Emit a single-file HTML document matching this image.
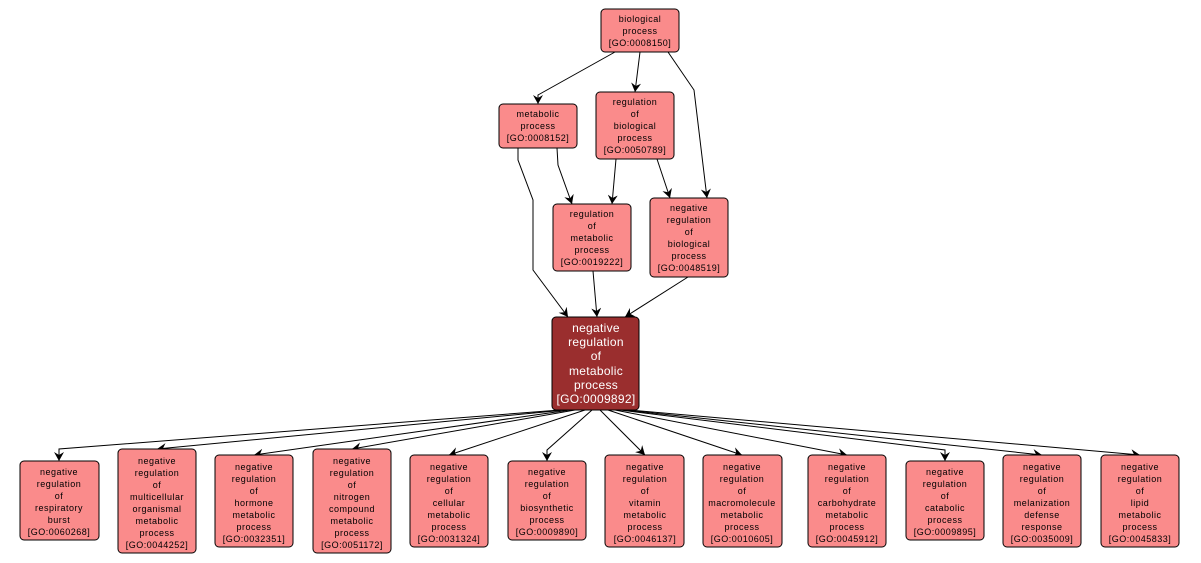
<!DOCTYPE html>
<html><head><meta charset="utf-8"><style>
html,body{margin:0;padding:0;background:#fff;}
svg{display:block;}
text{font-family:"Liberation Sans",sans-serif;font-size:9px;letter-spacing:0.5px;fill:#000;text-anchor:middle;dominant-baseline:central;}
.m text{fill:#fff;font-size:12px;letter-spacing:0.3px;}
rect.n{fill:#fa8b8b;stroke:#000;stroke-width:1;}
path.e{fill:none;stroke:#000;stroke-width:1;}
</style></head><body>
<svg width="1201" height="563" viewBox="0 0 1201 563">
<defs><marker id="a" markerWidth="10" markerHeight="10" refX="9" refY="5" orient="auto" markerUnits="userSpaceOnUse"><path d="M0,0 L9,5 L0,10 L3,5 Z" fill="#000"/></marker></defs>
<g marker-end="url(#a)">
<path class="e" d="M615,52 L538,95 L538,104"/>
<path class="e" d="M640,52 L635,92"/>
<path class="e" d="M668,52 L694,90 L707,198"/>
<path class="e" d="M518,148 L518,160 L533,200 L533,270 L568,317"/>
<path class="e" d="M557,148 L558,165 L572,204"/>
<path class="e" d="M616,159 L612,204"/>
<path class="e" d="M657,159 L670,198"/>
<path class="e" d="M593,271 L597,317"/>
<path class="e" d="M688,277 L625,317"/>
<path class="e" d="M560,410 L59,449 L59,461"/>
<path class="e" d="M565,410 L157,449"/>
<path class="e" d="M570,410 L254,455"/>
<path class="e" d="M575,410 L352,449"/>
<path class="e" d="M585,410 L449,455"/>
<path class="e" d="M592,410 L547,450 L547,461"/>
<path class="e" d="M600,410 L645,455"/>
<path class="e" d="M608,410 L742,455"/>
<path class="e" d="M615,410 L847,455"/>
<path class="e" d="M620,410 L945,450 L945,461"/>
<path class="e" d="M625,410 L1042,455"/>
<path class="e" d="M630,410 L1140,455"/>
</g>

<rect class="n" x="601" y="9" width="78" height="43" rx="4"/>
<text x="640" y="19">biological</text><text x="640" y="31">process</text><text x="640" y="43">[GO:0008150]</text>

<rect class="n" x="499" y="104" width="78" height="44" rx="4"/>
<text x="538" y="114">metabolic</text><text x="538" y="126">process</text><text x="538" y="138">[GO:0008152]</text>

<rect class="n" x="596" y="92" width="78" height="67" rx="4"/>
<text x="635" y="102">regulation</text><text x="635" y="114">of</text><text x="635" y="126">biological</text><text x="635" y="138">process</text><text x="635" y="150">[GO:0050789]</text>

<rect class="n" x="553" y="204" width="78" height="67" rx="4"/>
<text x="592" y="214">regulation</text><text x="592" y="226">of</text><text x="592" y="238">metabolic</text><text x="592" y="250">process</text><text x="592" y="262">[GO:0019222]</text>

<rect class="n" x="650" y="198" width="78" height="79" rx="4"/>
<text x="689" y="208">negative</text><text x="689" y="220">regulation</text><text x="689" y="232">of</text><text x="689" y="244">biological</text><text x="689" y="256">process</text><text x="689" y="268">[GO:0048519]</text>

<g class="m">
<rect x="552" y="317" width="87" height="93" rx="4" fill="#9a2e2e" stroke="#000"/>
<text x="596" y="328">negative</text><text x="596" y="342">regulation</text><text x="596" y="356">of</text><text x="596" y="371">metabolic</text><text x="596" y="385">process</text><text x="596" y="399">[GO:0009892]</text>
</g>

<rect class="n" x="20" y="461" width="79" height="79" rx="4"/>
<text x="59" y="472">negative</text><text x="59" y="484">regulation</text><text x="59" y="496">of</text><text x="59" y="508">respiratory</text><text x="59" y="520">burst</text><text x="59" y="532">[GO:0060268]</text>

<rect class="n" x="118" y="449" width="78" height="104" rx="4"/>
<text x="157" y="461">negative</text><text x="157" y="473">regulation</text><text x="157" y="485">of</text><text x="157" y="497">multicellular</text><text x="157" y="509">organismal</text><text x="157" y="521">metabolic</text><text x="157" y="533">process</text><text x="157" y="545">[GO:0044252]</text>

<rect class="n" x="215" y="455" width="78" height="92" rx="4"/>
<text x="254" y="467">negative</text><text x="254" y="479">regulation</text><text x="254" y="491">of</text><text x="254" y="503">hormone</text><text x="254" y="515">metabolic</text><text x="254" y="527">process</text><text x="254" y="539">[GO:0032351]</text>

<rect class="n" x="313" y="449" width="78" height="104" rx="4"/>
<text x="352" y="461">negative</text><text x="352" y="473">regulation</text><text x="352" y="485">of</text><text x="352" y="497">nitrogen</text><text x="352" y="509">compound</text><text x="352" y="521">metabolic</text><text x="352" y="533">process</text><text x="352" y="545">[GO:0051172]</text>

<rect class="n" x="410" y="455" width="78" height="92" rx="4"/>
<text x="449" y="467">negative</text><text x="449" y="479">regulation</text><text x="449" y="491">of</text><text x="449" y="503">cellular</text><text x="449" y="515">metabolic</text><text x="449" y="527">process</text><text x="449" y="539">[GO:0031324]</text>

<rect class="n" x="508" y="461" width="78" height="79" rx="4"/>
<text x="547" y="472">negative</text><text x="547" y="484">regulation</text><text x="547" y="496">of</text><text x="547" y="508">biosynthetic</text><text x="547" y="520">process</text><text x="547" y="532">[GO:0009890]</text>

<rect class="n" x="605" y="455" width="79" height="92" rx="4"/>
<text x="645" y="467">negative</text><text x="645" y="479">regulation</text><text x="645" y="491">of</text><text x="645" y="503">vitamin</text><text x="645" y="515">metabolic</text><text x="645" y="527">process</text><text x="645" y="539">[GO:0046137]</text>

<rect class="n" x="703" y="455" width="79" height="92" rx="4"/>
<text x="742" y="467">negative</text><text x="742" y="479">regulation</text><text x="742" y="491">of</text><text x="742" y="503">macromolecule</text><text x="742" y="515">metabolic</text><text x="742" y="527">process</text><text x="742" y="539">[GO:0010605]</text>

<rect class="n" x="808" y="455" width="78" height="92" rx="4"/>
<text x="847" y="467">negative</text><text x="847" y="479">regulation</text><text x="847" y="491">of</text><text x="847" y="503">carbohydrate</text><text x="847" y="515">metabolic</text><text x="847" y="527">process</text><text x="847" y="539">[GO:0045912]</text>

<rect class="n" x="906" y="461" width="78" height="79" rx="4"/>
<text x="945" y="472">negative</text><text x="945" y="484">regulation</text><text x="945" y="496">of</text><text x="945" y="508">catabolic</text><text x="945" y="520">process</text><text x="945" y="532">[GO:0009895]</text>

<rect class="n" x="1003" y="455" width="78" height="92" rx="4"/>
<text x="1042" y="467">negative</text><text x="1042" y="479">regulation</text><text x="1042" y="491">of</text><text x="1042" y="503">melanization</text><text x="1042" y="515">defense</text><text x="1042" y="527">response</text><text x="1042" y="539">[GO:0035009]</text>

<rect class="n" x="1101" y="455" width="78" height="92" rx="4"/>
<text x="1140" y="467">negative</text><text x="1140" y="479">regulation</text><text x="1140" y="491">of</text><text x="1140" y="503">lipid</text><text x="1140" y="515">metabolic</text><text x="1140" y="527">process</text><text x="1140" y="539">[GO:0045833]</text>
</svg>
</body></html>
